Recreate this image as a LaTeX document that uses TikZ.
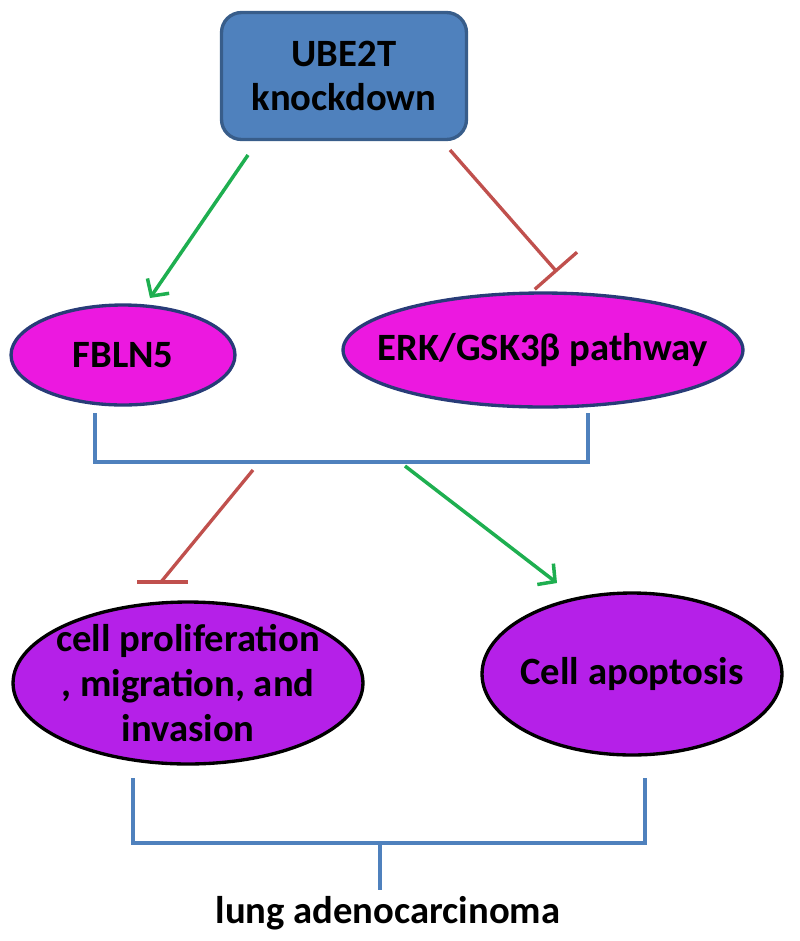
\documentclass[tikz,border=0pt]{standalone}
\usepackage{fontspec}
\setmainfont{Carlito}
\usetikzlibrary{shapes.geometric,arrows.meta}
\definecolor{kdblue}{RGB}{79,129,189}
\definecolor{kdedge}{RGB}{56,93,138}
\definecolor{pathmag}{RGB}{236,24,224}
\definecolor{pathedge}{RGB}{40,60,120}
\definecolor{fateviolet}{RGB}{181,32,232}
\definecolor{actgreen}{RGB}{30,175,80}
\definecolor{inhred}{RGB}{192,80,77}
\begin{document}
\begin{tikzpicture}[x=0.02cm, y=-0.02cm,
  every node/.style={font=\fontsize{22}{25.5}\selectfont\bfseries, text=black, align=center},
  oval/.style={ellipse, draw, line width=1.9pt, inner sep=-0.6cm},
  actarrow/.style={draw=actgreen, line width=2pt, -{Straight Barb[length=7pt,width=15pt]}},
  inhib/.style={draw=inhred, line width=1.9pt, -{Bar[width=32pt]}},
  bracket/.style={draw=kdblue, line width=1.9pt}]
\useasboundingbox (0,0) rectangle (800,941);
% top box
\node[draw=kdedge, fill=kdblue, line width=1.9pt, rounded corners=0.4cm, minimum width=4.9cm, minimum height=2.54cm] (kd) at (344,76) {UBE2T\\knockdown};
% middle layer
\node[oval, draw=pathedge, fill=pathmag, minimum width=4.48cm, minimum height=2.0cm] (fbln) at (123,355) {FBLN5};
\node[oval, draw=pathedge, fill=pathmag, minimum width=8.0cm, minimum height=2.28cm] (erk) at (543,350) {ERK/GSK3β pathway};
% cell fates
\node[oval, fill=fateviolet, minimum width=7.0cm, minimum height=3.24cm] (prolif) at (188,683) {cell proliferation\\, migration, and\\invasion};
\node[oval, fill=fateviolet, minimum width=6.0cm, minimum height=3.24cm] (apop) at (632,674) {Cell apoptosis};
\node (lac) at (388,913) {lung adenocarcinoma};
% connector ends
\coordinate (kdl) at (248,155);
\coordinate (kdr) at (450,150);
\coordinate (fblnin) at (150,298);
\coordinate (erkin) at (557,272);
\coordinate (fbl) at (95,413);
\coordinate (erb) at (588,413);
\coordinate (brl) at (95,462);
\coordinate (brr) at (588,462);
\coordinate (inh2) at (253,470);
\coordinate (act2) at (405,466);
\coordinate (proin) at (161,582);
\coordinate (apin) at (557,583);
\coordinate (prb) at (133,778);
\coordinate (apb) at (645,778);
\coordinate (lbl) at (133,843);
\coordinate (lbr) at (645,843);
\coordinate (stem) at (380,843);
\draw[actarrow] (kdl) -- (fblnin);
\draw[inhib] (kdr) -- (erkin);
\draw[bracket] (fbl) -- (brl) -- (brr) -- (erb);
\draw[inhred, line width=1.9pt] (inh2) -- (proin);
\draw[inhred, line width=1.9pt] ([xshift=-0.48cm]proin) -- ([xshift=0.54cm]proin);
\draw[actarrow] (act2) -- (apin);
\draw[bracket] (prb) -- (lbl) -- (lbr) -- (apb);
\draw[bracket] (stem) -- (lac.north -| stem);
\end{tikzpicture}
\end{document}
